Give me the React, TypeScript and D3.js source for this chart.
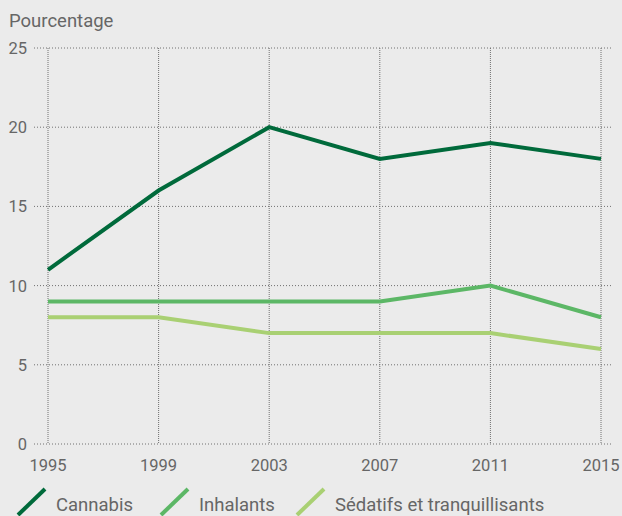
import React, { useEffect, useRef } from 'react';
import * as d3 from 'd3';

const years = [1995, 1999, 2003, 2007, 2011, 2015];
const cannabis = [11, 16, 20, 18, 19, 18];
const inhalants = [9, 9, 9, 9, 10, 8];
const sedatifs = [8, 8, 7, 7, 7, 6];
const yTicks = [0, 5, 10, 15, 20, 25];

const seriesNames = ['Cannabis', 'Inhalants', 'Sédatifs et tranquillisants'];
const seriesColors = ['#006a3b', '#5cb766', '#a9d073'];

const App: React.FC = () => {
  const svgRef = useRef<SVGSVGElement>(null);

  useEffect(() => {
    if (!svgRef.current) return;
    const width = 622;
    const height = 516;
    const font = 'Roboto, "Liberation Sans", sans-serif';
    const textColor = '#666666';

    d3.select(svgRef.current).selectAll('*').remove();
    const svg = d3.select(svgRef.current)
      .attr('width', width)
      .attr('height', height);

    svg.append('rect')
      .attr('width', width)
      .attr('height', height)
      .attr('fill', '#ebebeb');

    const x = d3.scaleLinear().domain([1995, 2015]).range([48, 601]);
    const y = d3.scaleLinear().domain([0, 25]).range([444, 48]);

    // grid
    const grid = svg.append('g');
    grid.selectAll('line.h')
      .data(yTicks)
      .enter()
      .append('line')
      .attr('x1', 34)
      .attr('x2', 613)
      .attr('y1', d => y(d))
      .attr('y2', d => y(d))
      .attr('stroke', '#707070')
      .attr('stroke-width', 1)
      .attr('stroke-dasharray', '1,2');

    grid.selectAll('line.v')
      .data(years)
      .enter()
      .append('line')
      .attr('x1', d => x(d))
      .attr('x2', d => x(d))
      .attr('y1', y(25))
      .attr('y2', y(0))
      .attr('stroke', '#707070')
      .attr('stroke-width', 1)
      .attr('stroke-dasharray', '1,1');

    // y labels
    svg.append('g')
      .selectAll('text')
      .data(yTicks)
      .enter()
      .append('text')
      .attr('x', 27)
      .attr('y', d => y(d) + 6)
      .attr('text-anchor', 'end')
      .attr('font-family', font)
      .attr('font-size', 16.5)
      .attr('fill', textColor)
      .text(d => d);

    // x labels
    svg.append('g')
      .selectAll('text')
      .data(years)
      .enter()
      .append('text')
      .attr('x', d => x(d))
      .attr('y', 471)
      .attr('text-anchor', 'middle')
      .attr('font-family', font)
      .attr('font-size', 16.5)
      .attr('fill', textColor)
      .text(d => d);

    svg.append('text')
      .attr('x', 9)
      .attr('y', 27)
      .attr('font-family', font)
      .attr('font-size', 18.5)
      .attr('fill', textColor)
      .text('Pourcentage');

    // lines
    const line = d3.line<number>()
      .x((_, i) => x(years[i]))
      .y(d => y(d));

    [cannabis, inhalants, sedatifs].forEach((vals, i) => {
      svg.append('path')
        .datum(vals)
        .attr('d', line)
        .attr('fill', 'none')
        .attr('stroke', seriesColors[i])
        .attr('stroke-width', 4)
        .attr('stroke-linejoin', 'miter');
    });

    // legend
    const legendX = [18, 161, 297];
    const legend = svg.append('g');
    seriesNames.forEach((name, i) => {
      const lx = legendX[i];
      legend.append('line')
        .attr('x1', lx)
        .attr('y1', 515)
        .attr('x2', lx + 27)
        .attr('y2', 489)
        .attr('stroke', seriesColors[i])
        .attr('stroke-width', 4);
      legend.append('text')
        .attr('x', lx + 38)
        .attr('y', 511)
        .attr('font-family', font)
        .attr('font-size', 18.5)
        .attr('fill', textColor)
        .text(name);
    });
  }, []);

  return (
    <svg ref={svgRef} style={{ position: 'absolute', left: 0, top: 0, display: 'block' }}></svg>
  );
};

export default App;
